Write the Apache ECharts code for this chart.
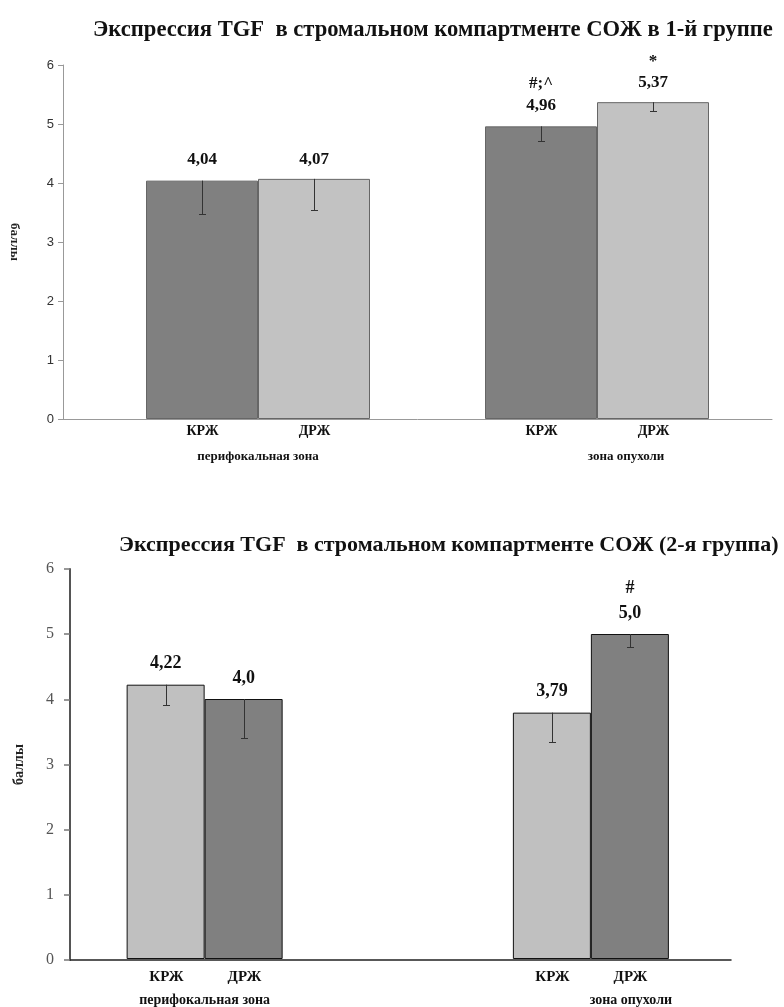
<!DOCTYPE html>
<html>
<head>
<meta charset="utf-8">
<script src="https://cdn.jsdelivr.net/npm/echarts@6/dist/echarts.min.js"></script>
<style>
  html, body { margin: 0; padding: 0; background: #fff; }
  #main { width: 784px; height: 1007px; }
</style>
</head>
<body>
<div id="main"></div>
<script>
// данные
var groups = ['перифокальная зона', 'зона опухоли'];
var seriesNames = ['КРЖ', 'ДРЖ'];
var yMin = 0, yMax = 6, yStep = 1;

// 1-я группа
var g1Titles = 'Экспрессия TGF  в стромальном компартменте СОЖ в 1-й группе';
var g1KRZ = [4.04, 4.96];
var g1DRZ = [4.07, 5.37];
var g1KRZErr = [0.56, 0.25];
var g1DRZErr = [0.53, 0.15];
var g1KRZMarks = ['', '#;^'];
var g1DRZMarks = ['', '*'];

// 2-я группа
var g2Titles = 'Экспрессия TGF  в стромальном компартменте СОЖ (2-я группа)';
var g2KRZ = [4.22, 3.79];
var g2DRZ = [4.0, 5.0];
var g2KRZErr = [0.31, 0.45];
var g2DRZErr = [0.6, 0.2];
var g2KRZMarks = ['', ''];
var g2DRZMarks = ['', '#'];

var serif = "'Liberation Serif', 'Times New Roman', serif";
var sans = "'Liberation Sans', Arial, sans-serif";

function fmt(v) {
    var s = (Math.round(v * 100) % 10 === 0) ? v.toFixed(1) : v.toFixed(2);
    return s.replace('.', ',');
}

function valueLabel(marks, size, lh, dist) {
    return {
        show: true,
        position: 'top',
        distance: dist,
        fontFamily: serif,
        fontWeight: 'bold',
        fontSize: size,
        lineHeight: lh,
        color: '#111',
        formatter: function (p) {
            var m = marks[p.dataIndex];
            return m ? m + '\n' + fmt(p.value) : fmt(p.value);
        }
    };
}

function barSeries(name, data, marks, axis, width, color, border, size, lh, dist) {
    return {
        type: 'bar',
        name: name,
        xAxisIndex: axis,
        yAxisIndex: axis,
        data: data,
        barWidth: width,
        barGap: '0%',
        itemStyle: { color: color, borderColor: border, borderWidth: 1 },
        label: valueLabel(marks, size, lh, dist)
    };
}

// минус-погрешность + подпись серии под осью
function errSeries(name, vals, errs, axis, side, width, labelDy, fontSize) {
    return {
        type: 'custom',
        xAxisIndex: axis,
        yAxisIndex: axis,
        z: 5,
        data: vals.map(function (v, i) { return [i, v, errs[i]]; }),
        renderItem: function (params, api) {
            var i = api.value(0), v = api.value(1), e = api.value(2);
            var top = api.coord([i, v]);
            var bot = api.coord([i, v - e]);
            var base = api.coord([i, 0]);
            var x = Math.round(top[0] + side * width / 2) + 0.5;
            var yb = Math.round(bot[1]) + 0.5;
            return {
                type: 'group',
                children: [
                    { type: 'line', shape: { x1: x, y1: top[1], x2: x, y2: yb },
                      style: { stroke: '#333', lineWidth: 1 } },
                    { type: 'line', shape: { x1: x - 3.5, y1: yb, x2: x + 3.5, y2: yb },
                      style: { stroke: '#333', lineWidth: 1 } },
                    { type: 'text',
                      style: { text: name, x: x, y: base[1] + labelDy, align: 'center', verticalAlign: 'middle',
                               fill: '#111', font: 'bold ' + fontSize + 'px ' + serif } }
                ]
            };
        }
    };
}

function groupLabel(shift, size, margin) {
    return {
        margin: margin,
        interval: 0,
        formatter: function (v, i) { return '{g' + i + '|' + v + '}'; },
        rich: {
            g0: { fontFamily: serif, fontWeight: 'bold', fontSize: size, color: '#111' },
            g1: { fontFamily: serif, fontWeight: 'bold', fontSize: size, color: '#111', padding: [0, 0, 0, shift] }
        }
    };
}

var chart = echarts.init(document.getElementById('main'));

var option = {
    animation: false,
    title: [
        { text: g1Titles, left: 88, top: 14,
          textStyle: { fontFamily: serif, fontWeight: 'bold', fontSize: 22.6, color: '#111' } },
        { text: g2Titles, left: 114, top: 529,
          textStyle: { fontFamily: serif, fontWeight: 'bold', fontSize: 22, color: '#111' } }
    ],
    grid: [
        { left: 62, top: 65, width: 710, height: 354 },
        { left: 88.5, top: 65, width: 678, height: 354 },
        { left: 70, top: 569, width: 661, height: 391 },
        { left: 11.5, top: 569, width: 778, height: 391 }
    ],
    xAxis: [
        { gridIndex: 0, type: 'value', min: 0, max: 1,
          axisLine: { lineStyle: { color: '#999', width: 1 } },
          axisTick: { show: false }, axisLabel: { show: false }, splitLine: { show: false } },
        { gridIndex: 1, type: 'category', data: groups,
          axisLine: { show: false }, axisTick: { show: false },
          axisLabel: groupLabel(58, 13, 31) },
        { gridIndex: 2, type: 'value', min: 0, max: 1,
          axisLine: { lineStyle: { color: '#222', width: 1.5 } },
          axisTick: { show: false }, axisLabel: { show: false }, splitLine: { show: false } },
        { gridIndex: 3, type: 'category', data: groups,
          axisLine: { show: false }, axisTick: { show: false },
          axisLabel: groupLabel(80, 14, 34) }
    ],
    yAxis: [
        { gridIndex: 0, type: 'value', min: yMin, max: yMax, interval: yStep,
          axisLine: { show: true, lineStyle: { color: '#999', width: 1 } },
          axisTick: { show: true, length: 5, lineStyle: { color: '#999' } },
          axisLabel: { fontFamily: sans, fontSize: 13, color: '#333', margin: 9 },
          splitLine: { show: false },
          name: 'баллы', nameLocation: 'middle', nameRotate: -90, nameGap: 42,
          nameTextStyle: { fontFamily: serif, fontWeight: 'bold', fontSize: 13, color: '#222' } },
        { gridIndex: 1, type: 'value', min: yMin, max: yMax, show: false },
        { gridIndex: 2, type: 'value', min: yMin, max: yMax, interval: yStep,
          axisLine: { show: true, lineStyle: { color: '#555', width: 2 } },
          axisTick: { show: true, length: 6, lineStyle: { color: '#777', width: 1.5 } },
          axisLabel: { fontFamily: serif, fontSize: 16, color: '#555', margin: 16 },
          splitLine: { show: false },
          name: 'баллы', nameLocation: 'middle', nameRotate: 90, nameGap: 44,
          nameTextStyle: { fontFamily: serif, fontWeight: 'bold', fontSize: 14, color: '#222' } },
        { gridIndex: 3, type: 'value', min: yMin, max: yMax, show: false }
    ],
    series: [
        barSeries(seriesNames[0], g1KRZ, g1KRZMarks, 1, 112, '#808080', '#666', 17, 22, 10),
        barSeries(seriesNames[1], g1DRZ, g1DRZMarks, 1, 112, '#c2c2c2', '#666', 17, 21, 9),
        errSeries(seriesNames[0], g1KRZ, g1KRZErr, 1, -1, 112, 12, 14),
        errSeries(seriesNames[1], g1DRZ, g1DRZErr, 1, 1, 112, 12, 14),
        barSeries(seriesNames[0], g2KRZ, g2KRZMarks, 3, 78, '#c0c0c0', '#111', 18, 25, 9),
        barSeries(seriesNames[1], g2DRZ, g2DRZMarks, 3, 78, '#808080', '#111', 18, 25, 8),
        errSeries(seriesNames[0], g2KRZ, g2KRZErr, 3, -1, 78, 18, 15),
        errSeries(seriesNames[1], g2DRZ, g2DRZErr, 3, 1, 78, 18, 15)
    ]
};

chart.setOption(option);
</script>
</body>
</html>
